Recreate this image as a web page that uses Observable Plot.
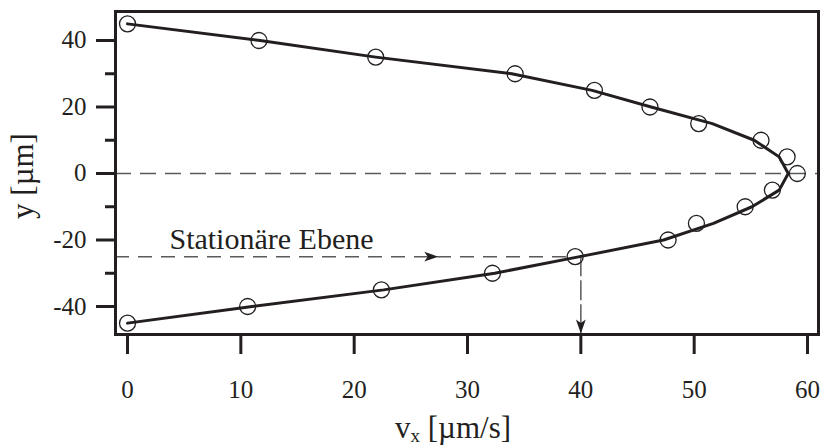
<!DOCTYPE html>
<html>
<head>
<meta charset="utf-8">
<script src="https://cdn.jsdelivr.net/npm/d3@7"></script>
<script src="https://cdn.jsdelivr.net/npm/@observablehq/plot@0.6"></script>
<style>
  html, body { margin: 0; padding: 0; background: #fff; }
  #chart { width: 823px; height: 448px; }
</style>
</head>
<body>
<div id="chart"></div>
<script>
// Measured velocity profile: open circles
const measuredVx = [0, 11.6, 21.9, 34.2, 41.2, 46.1, 50.4, 55.9, 58.2, 59.1, 56.9, 54.5, 50.2, 47.7, 39.5, 32.2, 22.4, 10.6, 0];
const measuredY  = [45, 40, 35, 30, 25, 20, 15, 10, 5, 0, -5, -10, -15, -20, -25, -30, -35, -40, -45];

// Fitted profile: solid line
const fitVx = [0, 11.7, 21.9, 33.9, 41.0, 46.2, 51.6, 55.3, 57.5, 58.3, 57.5, 55.1, 51.7, 47.3, 39.9, 32.4, 22.6, 11.0, 0];
const fitY  = [45, 40, 35, 30, 25, 20, 15, 10, 5, 0, -5, -10, -15, -20, -25, -30, -35, -40, -45];

// Axis ticks
const xTicks = [0, 10, 20, 30, 40, 50, 60];
const yTicks = [-40, -20, 0, 20, 40];
const yMinorTicks = [-30, -10, 10, 30];

// Stationary plane annotation
const stationaryY = -25;
const stationaryVx = 40;
const stationaryLabel = "Stationäre Ebene";
const arrowVx = [26.8, 40];
const arrowY = [-25, -46.0];
const arrowAngle = [90, 180];

const xDomain = [-1.06, 60.97];
const yDomain = [-48.42, 48.72];

const ink = "#231f20";
const dashGray = "#5a5a5a";

// Filled, notched arrowhead pointing up (rotated by the dot mark)
const arrowHead = {
  draw(ctx, size) {
    const r = Math.sqrt(size / Math.PI);
    ctx.moveTo(0, -r);
    ctx.lineTo(r * 0.7, r);
    ctx.lineTo(0, r * 0.5);
    ctx.lineTo(-r * 0.7, r);
    ctx.closePath();
  }
};

const points = measuredVx.map((v, i) => ({vx: v, y: measuredY[i]}));
const fit = fitVx.map((v, i) => ({vx: v, y: fitY[i]}));
const arrows = arrowVx.map((v, i) => ({vx: v, y: arrowY[i], a: arrowAngle[i]}));

// plain hyphen for negative tick labels
const fmt = d => String(d);

const chart = Plot.plot({
  width: 823,
  height: 448,
  marginLeft: 115,
  marginRight: 5,
  marginTop: 11,
  marginBottom: 114,
  style: {fontFamily: "'Liberation Serif', 'Times New Roman', serif", fontSize: "25px", color: ink, background: "#fff"},
  x: {domain: xDomain},
  y: {domain: yDomain},
  marks: [
    // zero line and stationary plane guides
    Plot.ruleY([0], {stroke: dashGray, strokeWidth: 1.5, strokeDasharray: "16,9"}),
    Plot.ruleY([stationaryY], {x1: xDomain[0], x2: stationaryVx, stroke: dashGray, strokeWidth: 1.5, strokeDasharray: "14,9"}),
    Plot.ruleX([stationaryVx], {y1: stationaryY, y2: yDomain[0], stroke: dashGray, strokeWidth: 1.5, strokeDasharray: "20,4"}),
    Plot.dot(arrows, {x: "vx", y: "y", rotate: "a", r: 7, symbol: arrowHead, fill: ink, stroke: "none"}),
    Plot.text([stationaryLabel], {x: 3.7, y: -22.6, textAnchor: "start", lineAnchor: "bottom", fontSize: 30, fill: ink}),
    // fitted profile and measurements
    Plot.line(fit, {x: "vx", y: "y", stroke: ink, strokeWidth: 3}),
    Plot.dot(points, {x: "vx", y: "y", r: 8, stroke: ink, strokeWidth: 1.3, fill: "none"}),
    // axes
    Plot.axisY({ticks: yTicks, tickFormat: fmt, tickSize: 19, tickPadding: 10, strokeWidth: 3, label: null, fontSize: 25}),
    Plot.axisY({ticks: yMinorTicks, tickSize: 10, strokeWidth: 3, text: null, label: null}),
    Plot.axisX({ticks: xTicks, tickFormat: fmt, tickSize: 20, tickPadding: 26, strokeWidth: 3, label: null, fontSize: 25}),
    Plot.frame({stroke: ink, strokeWidth: 3})
  ]
});

// Axis titles, with a subscript on v_x
const svg = d3.select(chart);
const xt = svg.append("text")
  .attr("x", 395).attr("y", 438)
  .attr("text-anchor", "start")
  .attr("fill", ink)
  .style("font-size", "31px");
xt.append("tspan").text("v");
xt.append("tspan").attr("dy", 4).style("font-size", "19px").text("x");
xt.append("tspan").attr("dy", -4).text(" [µm/s]");

svg.append("text")
  .attr("transform", "translate(33,176) rotate(-90)")
  .attr("text-anchor", "middle")
  .attr("fill", ink)
  .style("font-size", "31px")
  .text("y [µm]");

document.getElementById("chart").appendChild(chart);
</script>
</body>
</html>
